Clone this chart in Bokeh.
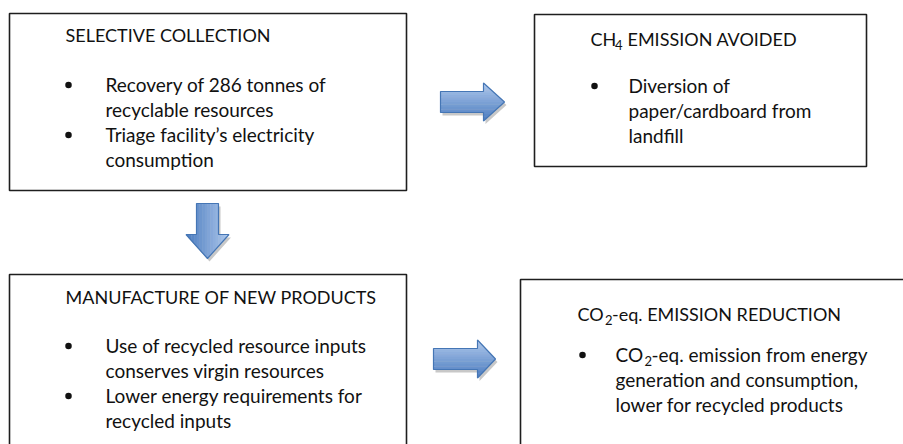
from bokeh.plotting import figure
from bokeh.models import Range1d
from bokeh.core.properties import value
from bokeh.embed import file_html
from bokeh.resources import INLINE

# ---------------- content ----------------
box_titles = ["SELECTIVE COLLECTION", "MANUFACTURE OF NEW PRODUCTS"]
box1_lines = ["Recovery of 286 tonnes of", "recyclable resources",
              "Triage facility\u2019s electricity", "consumption"]
box1_bullets = [0, 2]
box2_lines = ["Diversion of", "paper/cardboard from", "landfill"]
box2_bullets = [0]
box3_lines = ["Use of recycled resource inputs", "conserves virgin resources",
              "Lower energy requirements for", "recycled inputs"]
box3_bullets = [0, 2]
box4_lines_rest = ["generation and consumption,", "lower for recycled products"]

# box geometry (left, right, top, bottom) in page pixels
boxes_l = [9, 534, 9, 520]
boxes_r = [406, 866, 406, 930]
boxes_t = [13, 14, 274, 279]
boxes_b = [190, 166, 470, 470]

FONT = value("Lato")
FS = "19px"
TFS = "18px"
SUB = "13px"
LH = 25.0
MID = 7.2  # baseline -> visual middle offset

W, H = 903, 444
p = figure(width=W, height=H, x_range=Range1d(0, W), y_range=Range1d(H, 0),
           output_backend="svg", toolbar_location=None, min_border=0,
           background_fill_color="white", border_fill_color="white")
p.axis.visible = False
p.grid.visible = False
p.outline_line_color = None

# ---------- arrows ----------
def clip(poly, axis, lo, hi):
    def clip_half(pts, keep, inter):
        out = []
        n = len(pts)
        for i in range(n):
            a = pts[i]; b = pts[(i + 1) % n]
            ka, kb = keep(a), keep(b)
            if ka:
                out.append(a)
            if ka != kb:
                out.append(inter(a, b))
        return out
    def mk(lim):
        def inter(a, b):
            t = (lim - a[axis]) / (b[axis] - a[axis])
            return (a[0] + t * (b[0] - a[0]), a[1] + t * (b[1] - a[1]))
        return inter
    pts = clip_half(poly, lambda q: q[axis] >= lo, mk(lo))
    if not pts:
        return []
    pts = clip_half(pts, lambda q: q[axis] <= hi, mk(hi))
    return pts

def lerp_col(c1, c2, t):
    a = [int(c1[i:i + 2], 16) for i in (1, 3, 5)]
    b = [int(c2[i:i + 2], 16) for i in (1, 3, 5)]
    return "#%02x%02x%02x" % tuple(int(round(a[k] + (b[k] - a[k]) * t)) for k in range(3))

LIGHT = "#b0c9ec"
DARK = "#4a7bbf"
EDGE = "#4576b5"

def right_arrow(left, head_x, tip, cy, body_half, head_half):
    return [(left, cy - body_half), (head_x, cy - body_half), (head_x, cy - head_half),
            (tip, cy), (head_x, cy + head_half), (head_x, cy + body_half), (left, cy + body_half)]

def down_arrow(top, head_y, tip, cx, body_half, head_half):
    return [(cx + body_half, top), (cx + body_half, head_y), (cx + head_half, head_y),
            (cx, tip), (cx - head_half, head_y), (cx - body_half, head_y), (cx - body_half, top)]

arrows = [
    ("r", right_arrow(440, 483, 504, 101.5, 10.5, 19)),
    ("d", down_arrow(203, 234, 258, 207, 11, 21.5)),
    ("r", right_arrow(433, 477, 495, 358.5, 10.5, 19)),
]

N = 16
for kind, poly in arrows:
    xs0 = [q[0] for q in poly]; ys0 = [q[1] for q in poly]
    # shadow
    p.patch([x + 2 for x in xs0], [y + 3 for y in ys0], fill_color="#9a9a9a",
            fill_alpha=0.55, line_color=None)
    sx, sy, cols = [], [], []
    if kind == "r":
        lo, hi = min(ys0), max(ys0)
        ax = 1
    else:
        lo, hi = min(xs0), max(xs0)
        ax = 0
    for i in range(N):
        a = lo + (hi - lo) * i / N
        b = lo + (hi - lo) * (i + 1) / N + 0.4
        part = clip(poly, ax, a, b)
        if len(part) < 3:
            continue
        t = (i + 0.5) / N
        if kind == "d":
            t = 1 - t
        sx.append([q[0] for q in part]); sy.append([q[1] for q in part])
        cols.append(lerp_col(LIGHT, DARK, t))
    p.patches(sx, sy, fill_color=cols, line_color=None)
    p.patch(xs0, ys0, fill_color=None, line_color=EDGE, line_width=1.2)

# ---------- boxes ----------
p.quad(left=boxes_l, right=boxes_r, top=boxes_t, bottom=boxes_b,
       fill_color=None, line_color="#1e1e1e", line_width=1.6)

def txt(x, base, s, size=FS, mid=MID):
    p.text(x=[x], y=[base - mid], text=[s], text_font=FONT, text_font_size=size,
           text_color="#111111", text_baseline="middle", text_align="left")

def title(x, base, s):
    txt(x, base, s, TFS, MID * 18 / 19)

def sub(x, base, s):
    txt(x, base + 4, s, SUB, MID * 13 / 19)

def bullet(x, y):
    p.scatter(x=[x], y=[y], size=6.5, marker="circle", fill_color="#111111", line_color=None)

def block(tx, bx, y0, lines, bullets):
    for i, s in enumerate(lines):
        y = y0 + i * LH
        txt(tx, y, s)
        if i in bullets:
            bullet(bx, y - 6.5)

# Box 1
title(65, 41, box_titles[0])
block(105, 68, 91, box1_lines, box1_bullets)
# Box 2
title(590, 45, "CH")
sub(614.5, 45, "4")
title(627, 45, "EMISSION AVOIDED")
block(628, 594, 92, box2_lines, box2_bullets)
# Box 3
title(65, 303, box_titles[1])
block(105, 68, 352, box3_lines, box3_bullets)
# Box 4
title(577, 320, "CO")
sub(604.5, 320, "2")
title(611.5, 320, "-eq. EMISSION REDUCTION")
txt(615, 361, "CO")
sub(644, 361, "2")
txt(651, 361, "-eq. emission from energy")
bullet(582, 361 - 6.5)
for i, s in enumerate(box4_lines_rest):
    txt(615, 361 + (i + 1) * LH, s)

open("out.html", "w").write(file_html(p, INLINE))
